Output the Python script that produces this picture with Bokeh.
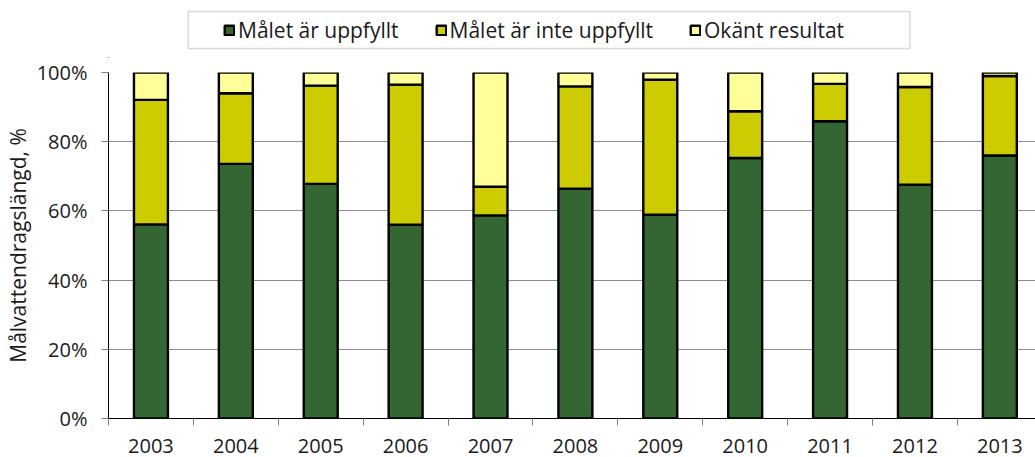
from bokeh.plotting import figure
from bokeh.layouts import column
from bokeh.models import (Range1d, FixedTicker, PrintfTickFormatter, Legend,
                          LegendItem, ColumnDataSource, BoxAnnotation)
from bokeh.embed import file_html
from bokeh.resources import INLINE

years = ["2003", "2004", "2005", "2006", "2007", "2008",
         "2009", "2010", "2011", "2012", "2013"]
met = [56.1, 73.6, 67.8, 56.0, 58.7, 66.4, 58.9, 75.3, 85.9, 67.6, 76.0]
not_met = [36.0, 20.4, 28.4, 40.5, 8.3, 29.6, 39.0, 13.5, 10.8, 28.2, 23.0]
unknown = [7.9, 6.0, 3.8, 3.5, 33.0, 4.0, 2.1, 11.2, 3.3, 4.2, 1.0]
labels = ["Målet är uppfyllt", "Målet är inte uppfyllt", "Okänt resultat"]
colors = ["#336633", "#CCCC00", "#FFFF99"]
y_ticks = [0, 20, 40, 60, 80, 100]

FONT = "Open Sans"
TXT = "#1a1a1a"
W = 1035
LEFT = 105
LEG_H = 58
MAIN_H = 399
FRAME_W = W - LEFT

x = list(range(len(years)))
src = ColumnDataSource(dict(x=x, met=met, not_met=not_met, unknown=unknown))

p = figure(width=W, height=MAIN_H,
           x_range=Range1d(-0.5, 10.42), y_range=Range1d(0, 100),
           output_backend="svg", toolbar_location=None,
           min_border_left=LEFT, min_border_right=0, min_border_top=14,
           min_border_bottom=39)
p.outline_line_color = None

rs = p.vbar_stack(["met", "not_met", "unknown"], x="x", width=0.4, source=src,
                  fill_color=colors, line_color="black", line_width=2.4)

p.xaxis.ticker = FixedTicker(ticks=x, minor_ticks=[i - 0.5 for i in range(len(years) + 1)])
p.xaxis.major_label_overrides = {i: y for i, y in enumerate(years)}
p.xaxis.major_tick_out = 0
p.xaxis.major_tick_in = 0
p.xaxis.minor_tick_out = 7
p.xaxis.minor_tick_in = 0
p.xaxis.minor_tick_line_color = "#808080"
p.xaxis.axis_line_color = "black"
p.xaxis.major_label_standoff = 13
p.xaxis.major_label_text_font_size = "20px"

p.yaxis.ticker = FixedTicker(ticks=y_ticks)
p.yaxis.formatter = PrintfTickFormatter(format="%d%%")
p.yaxis.major_tick_out = 7
p.yaxis.major_tick_in = 0
p.yaxis.minor_tick_line_color = None
p.yaxis.major_tick_line_color = "#808080"
p.yaxis.axis_line_color = "black"
p.yaxis.major_label_standoff = 14
p.yaxis.major_label_text_font_size = "20px"
p.yaxis.axis_label = "Målvattendragslängd, %"
p.yaxis.axis_label_text_font_size = "21px"
p.yaxis.axis_label_text_font_style = "normal"
p.yaxis.axis_label_standoff = 2

for ax in (p.xaxis[0], p.yaxis[0]):
    ax.major_label_text_font = FONT
    ax.axis_label_text_font = FONT
    ax.major_label_text_color = TXT
    ax.axis_label_text_color = TXT

p.xgrid.grid_line_color = None
p.ygrid.grid_line_color = "#8c8c8c"
p.ygrid.ticker = FixedTicker(ticks=y_ticks)

# legend strip above the chart (its frame is aligned with the chart frame;
# ranges are in pixels of that frame)
lf = figure(width=W, height=LEG_H, x_range=Range1d(0, FRAME_W), y_range=Range1d(0, LEG_H),
            output_backend="svg", toolbar_location=None,
            min_border_left=LEFT, min_border_right=0, min_border_top=0,
            min_border_bottom=0, x_axis_type=None, y_axis_type=None)
lf.outline_line_color = None
lf.xgrid.grid_line_color = None
lf.ygrid.grid_line_color = None
dummy = [lf.vbar(x=[-100], top=[0], width=1, fill_color=c, line_color="black",
                 line_width=2.4) for c in colors]

lf.add_layout(BoxAnnotation(left=80, right=804, bottom=10, top=47,
                            fill_alpha=0, line_color="#808080", line_width=1.5,
                            level="underlay"))

legend = Legend(items=[LegendItem(label=l, renderers=[r]) for l, r in zip(labels, dummy)],
                orientation="horizontal", location=(115, 14))
legend.label_text_font = FONT
legend.label_text_font_size = "21px"
legend.label_text_color = TXT
legend.glyph_width = 12
legend.glyph_height = 12
legend.label_standoff = 3
legend.spacing = 36
legend.padding = 0
legend.margin = 0
legend.border_line_color = None
legend.background_fill_alpha = 0
lf.add_layout(legend, "center")

layout = column(lf, p, spacing=0)
open("out.html", "w").write(file_html(layout, INLINE))
